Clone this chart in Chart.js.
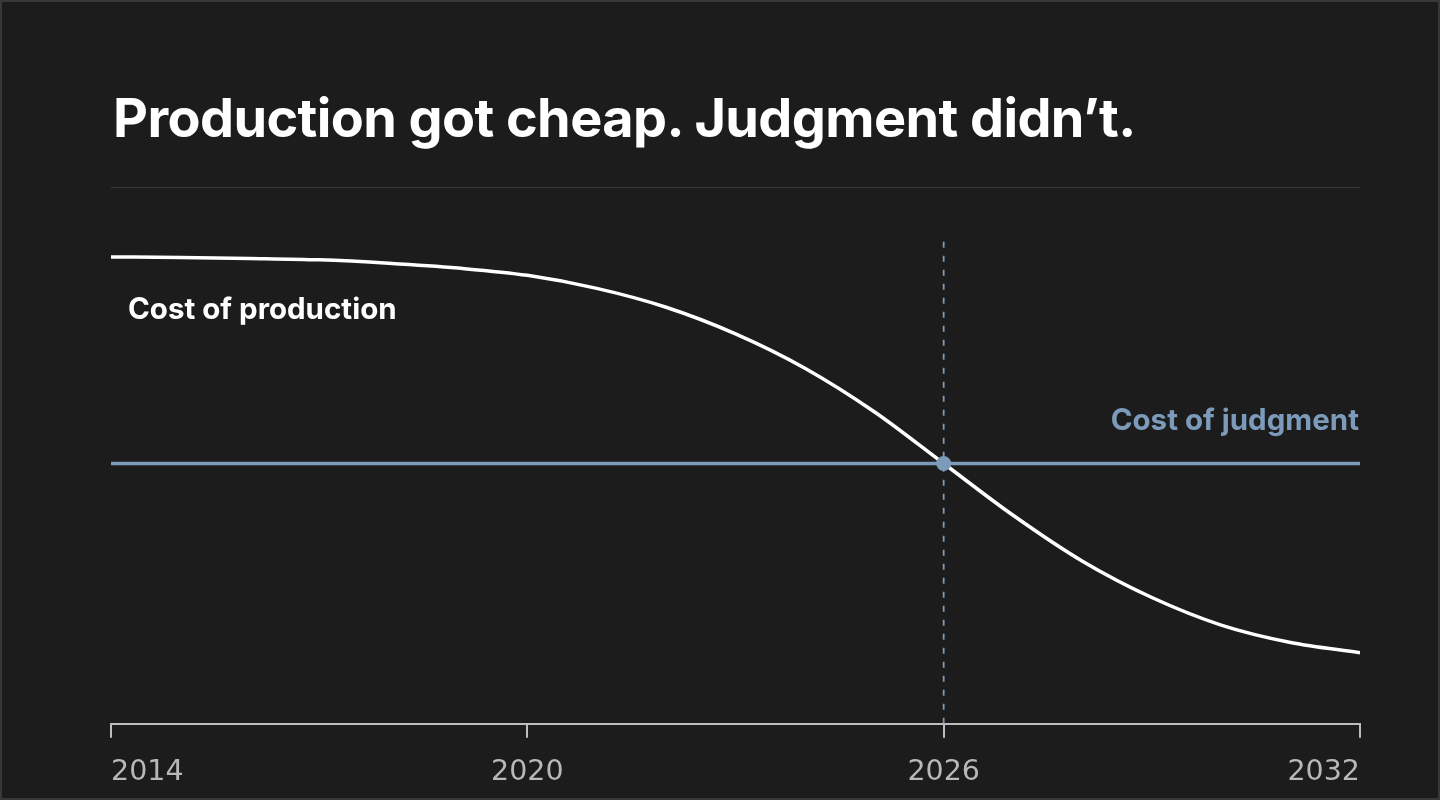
<!DOCTYPE html>
<html>
<head>
<meta charset="utf-8">
<script src="https://cdn.jsdelivr.net/npm/chart.js@4.4.1/dist/chart.umd.min.js"></script>
<style>
  html, body { margin: 0; padding: 0; background: #1c1c1c; }
  .frame {
    position: relative; width: 1440px; height: 800px; box-sizing: border-box;
    border: 2px solid #383838; background: #1c1c1c; overflow: hidden;
  }
  h1 {
    position: absolute; left: 111px; top: 84px; margin: 0;
    font-family: Inter, "Noto Sans", sans-serif; font-weight: 700; font-size: 54px;
    letter-spacing: -0.6px; color: #ffffff; line-height: 1.2;
  }
  .rule { position: absolute; left: 109px; top: 185px; width: 1249px; height: 1px; background: #3a3a3a; }
  .plot { position: absolute; left: -2px; top: -2px; width: 1440px; height: 822px; }
</style>
</head>
<body>
<div class="frame">
  <h1>Production got cheap. Judgment didn’t.</h1>
  <div class="rule"></div>
  <div class="plot"><canvas id="line-chart"></canvas></div>
</div>
<script>
// years along the x axis
var years = [2014, 2015, 2016, 2017, 2018, 2019, 2020, 2021, 2022, 2023,
             2024, 2025, 2026, 2027, 2028, 2029, 2030, 2031, 2032];
// relative cost (0 = axis, 100 = top of plot)
var productionCost = [96.5, 96.4, 96.2, 95.9, 95.2, 94.2, 92.7, 90.0, 86.1, 80.6,
                      73.5, 64.5, 53.8, 43.1, 33.6, 26.1, 20.4, 16.8, 14.7];
var judgmentCost = 53.8;
var crossYear = 2026;
var tickYears = [2014, 2020, 2026, 2032];
var productionLabel = 'Cost of production';
var judgmentLabel = 'Cost of judgment';

var blue = '#7c9bbb';

var labelsPlugin = {
  id: 'seriesLabels',
  afterDatasetsDraw: function (chart) {
    var ctx = chart.ctx, x = chart.scales.x, y = chart.scales.y;
    ctx.save();
    ctx.font = '700 29.5px Inter, "Noto Sans", sans-serif';
    ctx.textBaseline = 'middle';
    ctx.fillStyle = '#ffffff';
    ctx.textAlign = 'left';
    ctx.fillText(productionLabel, x.getPixelForValue(years[0]) + 17, y.getPixelForValue(productionCost[0]) + 53);
    ctx.fillStyle = blue;
    ctx.textAlign = 'right';
    ctx.fillText(judgmentLabel, x.getPixelForValue(years[years.length - 1]) - 1, y.getPixelForValue(judgmentCost) - 42);
    ctx.restore();
  }
};

new Chart(document.getElementById('line-chart'), {
  type: 'line',
  data: {
    datasets: [
      {
        data: [{ x: crossYear, y: judgmentCost }],
        pointRadius: 7.5, pointBackgroundColor: blue, pointBorderWidth: 0,
        showLine: false, order: 0
      },
      {
        data: years.map(function (yr, i) { return { x: yr, y: productionCost[i] }; }),
        borderColor: '#ffffff', borderWidth: 3.5, pointRadius: 0,
        cubicInterpolationMode: 'monotone', order: 1
      },
      {
        data: [{ x: years[0], y: judgmentCost }, { x: years[years.length - 1], y: judgmentCost }],
        borderColor: blue, borderWidth: 3.5, pointRadius: 0, order: 2
      },
      {
        data: [{ x: crossYear, y: 0 }, { x: crossYear, y: 100 }],
        borderColor: blue, borderWidth: 1.8, borderDash: [6, 8], pointRadius: 0, order: 3
      }
    ]
  },
  options: {
    responsive: true,
    maintainAspectRatio: false,
    animation: false,
    events: [],
    layout: { padding: { left: 111, right: 80, top: 240, bottom: 14 } },
    plugins: { legend: { display: false }, tooltip: { enabled: false } },
    scales: {
      x: {
        type: 'linear', min: years[0], max: years[years.length - 1],
        afterBuildTicks: function (axis) { axis.ticks = tickYears.map(function (v) { return { value: v }; }); },
        border: { display: true, color: '#bdbdbd', width: 2 },
        grid: { display: true, drawOnChartArea: false, drawTicks: true, tickLength: 14, color: '#bdbdbd', lineWidth: 2 },
        ticks: {
          align: 'inner', padding: 18, color: '#b8b8b8', maxRotation: 0,
          font: { family: '"DejaVu Sans", sans-serif', size: 28.5, weight: '400' },
          callback: function (v) { return String(v); }
        }
      },
      y: { display: false, min: 0, max: 100 }
    }
  },
  plugins: [labelsPlugin]
});
</script>
</body>
</html>
